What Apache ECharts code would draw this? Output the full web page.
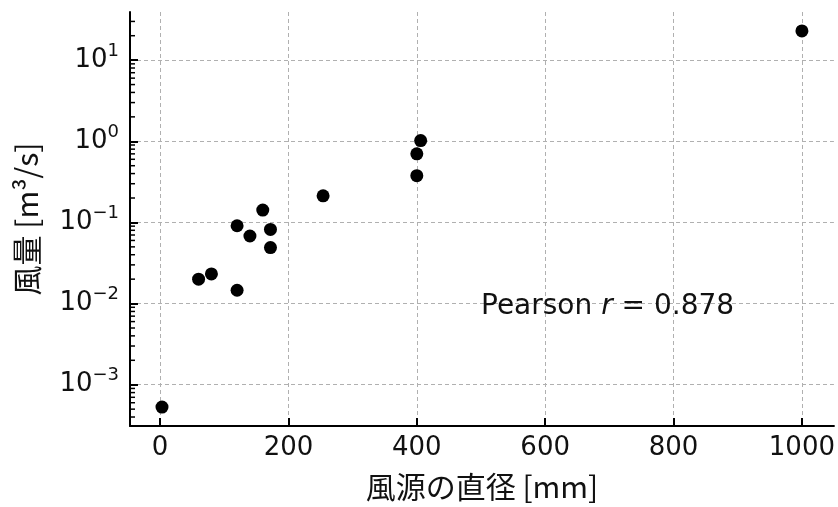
<!DOCTYPE html>
<html>
<head>
<meta charset="utf-8">
<script src="https://cdn.jsdelivr.net/npm/echarts@6/dist/echarts.min.js"></script>
<style>html,body{margin:0;padding:0;background:#fff}#c{width:838px;height:507px}</style>
</head>
<body>
<div id="c"></div>
<script>
// ---- data ----
const diameters = [3, 60, 80, 120, 120, 140, 160, 172, 172, 254, 400, 400, 406, 1000];
const flows = [0.00053, 0.020, 0.0232, 0.0146, 0.091, 0.068, 0.142, 0.082, 0.049, 0.213, 0.377, 0.70, 1.02, 22.9];
const xTicks = [0, 200, 400, 600, 800, 1000];
const yTickExps = [-3, -2, -1, 0, 1];
const xRange = [-46.85, 1049.85];
const yRange = [3.10e-4, 39.2];
const xTitle = '風源の直径 [mm]';
const yTitle = '風量 [m³/s]';
const annotation = { x: 500, y: 0.01, pre: 'Pearson ', v: 'r', post: ' = 0.878' };

const FONT = '"Noto Sans CJK JP", "DejaVu Sans", sans-serif';
const NUMFONT = '"DejaVu Sans", sans-serif';
const INK = '#111';
const lg = v => Math.log10(v);

// minor tick values 2..9 x 10^n inside range
const minorVals = [];
for (let n = -4; n <= 1; n++) for (let k = 2; k <= 9; k++) {
  const v = k * Math.pow(10, n);
  if (v > yRange[0] && v < yRange[1]) minorVals.push(lg(v));
}

const chart = echarts.init(document.getElementById('c'), null, { renderer: 'canvas' });
const sup = s => String(s).replace('-', '−');
const gridLine = { show: true, lineStyle: { color: '#b0b0b0', width: 1, type: [4, 3] } };

chart.setOption({
  animation: false,
  grid: { left: 130, right: 4, top: 12, bottom: 78, containLabel: false },
  xAxis: {
    type: 'value', min: xRange[0], max: xRange[1], splitNumber: 5,
    name: xTitle, nameLocation: 'middle', nameGap: 46,
    nameTextStyle: { fontFamily: FONT, fontSize: 30, color: INK },
    axisLine: { show: true, onZero: false, lineStyle: { color: '#000', width: 2 } },
    axisTick: { show: true, inside: true, length: 8, lineStyle: { color: '#000', width: 2 }, customValues: xTicks },
    axisLabel: { fontFamily: NUMFONT, fontSize: 26, color: INK, margin: 9, customValues: xTicks, formatter: v => String(v) },
    splitLine: gridLine
  },
  yAxis: {
    type: 'value', min: lg(yRange[0]), max: lg(yRange[1]),
    name: yTitle, nameLocation: 'middle', nameGap: 88,
    nameTextStyle: { fontFamily: FONT, fontSize: 30, color: INK },
    axisLine: { show: true, onZero: false, lineStyle: { color: '#000', width: 2 } },
    axisTick: { show: true, inside: true, length: 8, lineStyle: { color: '#000', width: 2 }, customValues: yTickExps },
    axisLabel: {
      fontFamily: NUMFONT, fontSize: 26, color: INK, margin: 11, customValues: yTickExps,
      formatter: v => '10{s|' + sup(Math.round(v)) + '}',
      rich: { s: { fontFamily: NUMFONT, fontSize: 18, color: INK, padding: [0, 0, 18, 0] } }
    },
    splitLine: gridLine
  },
  series: [
    {
      type: 'scatter', symbol: 'circle', symbolSize: 13,
      itemStyle: { color: '#000', opacity: 1 },
      data: diameters.map((d, i) => [d, lg(flows[i])]), z: 5
    },
    {
      type: 'custom', silent: true, clip: false, z: 6,
      data: minorVals.map(v => [xRange[0], v]),
      renderItem: (params, api) => {
        const p = api.coord([api.value(0), api.value(1)]);
        return { type: 'line', shape: { x1: p[0], y1: p[1], x2: p[0] + 5, y2: p[1] }, style: { stroke: '#000', lineWidth: 1.5 } };
      }
    },
    {
      type: 'scatter', symbolSize: 0, silent: true,
      itemStyle: { opacity: 1 },
      data: [[annotation.x, lg(annotation.y)]],
      label: {
        show: true, position: 'right', distance: 0, offset: [0, 3], opacity: 1,
        formatter: annotation.pre + '{i|' + annotation.v + '}' + annotation.post,
        fontFamily: NUMFONT, fontSize: 28, color: INK,
        rich: { i: { fontFamily: NUMFONT, fontStyle: 'italic', fontSize: 28, color: INK } }
      }
    }
  ]
});
</script>
</body>
</html>
